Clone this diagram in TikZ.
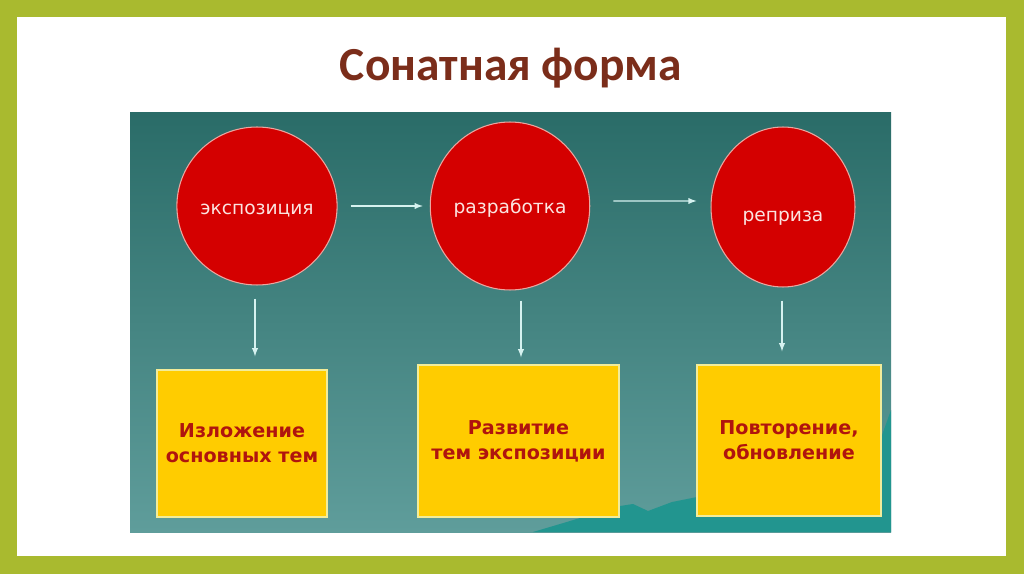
\documentclass[tikz,border=0pt]{standalone}
\usepackage{fontspec}
\setmainfont{DejaVu Sans}
\newfontfamily\titlefont{Carlito}
\usetikzlibrary{shapes.geometric}
\definecolor{framegreen}{HTML}{A9BA2F}
\definecolor{titlebrown}{HTML}{7B2D1A}
\definecolor{paneltop}{HTML}{2A6C68}
\definecolor{panelbot}{HTML}{5F9D9B}
\definecolor{hillteal}{HTML}{22958F}
\definecolor{partred}{HTML}{D40000}
\definecolor{partedge}{HTML}{EAA6A0}
\definecolor{parttext}{HTML}{FBE4E0}
\definecolor{boxgold}{HTML}{FFCC00}
\definecolor{boxedge}{HTML}{F2EC9A}
\definecolor{boxtext}{HTML}{B0140E}
\definecolor{arrowcol}{HTML}{D6F2F0}
\newcommand\lowered[2]{\raisebox{-#1}[\height][\depth]{#2}}
\tikzset{
	part/.style={ellipse, draw=partedge, line width=0.6pt, fill=partred, text=parttext, inner sep=0pt, font=\fontsize{10.6}{12}\selectfont},
	descbox/.style={rectangle, draw=boxedge, line width=0.8pt, fill=boxgold, text=boxtext, align=center, inner sep=0pt, font=\fontsize{10.9}{14.2}\selectfont\bfseries},
	arr/.style={-latex, draw=arrowcol, line width=0.6pt}
}
\begin{document}
\begin{tikzpicture}[x=0.02cm, y=-0.02cm]
			%%%%% FRAME %%%%%
			\useasboundingbox (0, 0) rectangle (1024, 574);
			\fill[framegreen] (0, 0) rectangle (1024, 574);
			\fill[white] (17, 17) rectangle (1006, 556);
			
			\node[font=\titlefont\fontsize{27}{32}\selectfont\bfseries, text=titlebrown] (title) at (511, 68) {Сонатная форма};
			
			%%%%% PANEL %%%%%
			\shade[top color=paneltop, bottom color=panelbot] (130, 113) rectangle (891, 532);
			\fill[hillteal] (533, 532) -- (560, 524) -- (590, 515) -- (620, 506) -- (633, 504) -- (648, 511) -- (672, 502) -- (697, 497) -- (760, 475) -- (881, 438) -- (891, 410) -- (891, 532) -- cycle;
			
			%%%%% PARTS %%%%%
			\node[part, minimum width=2.76cm, minimum height=3.16cm] (expo) at (257, 206) {\lowered{0.1cm}{экспозиция}};
			\node[part, minimum width=2.92cm, minimum height=3.36cm] (razr) at (510, 206) {\lowered{0.04cm}{разработка}};
			\node[part, minimum width=2.88cm, minimum height=3.2cm] (repr) at (783, 207) {\lowered{0.22cm}{реприза}};
			
			\node[descbox, minimum width=3.4cm, minimum height=2.94cm] (izl) at (242, 443.5) {Изложение\\основных тем};
			\node[descbox, minimum width=4.02cm, minimum height=3.04cm] (razv) at (518.5, 441) {Развитие\\тем экспозиции};
			\node[descbox, minimum width=3.68cm, minimum height=3.02cm] (povt) at (789, 440.5) {Повторение,\\обновление};
			
			%%%%% ARROWS %%%%%
			\draw[arr, shorten <=0.26cm, shorten >=0.14cm] (expo.east) -- (razr.west);
			\draw[arr, shorten <=0.46cm, shorten >=0.28cm] ([yshift=0.1cm]razr.east) -- ([yshift=0.12cm]repr.west);
			\draw[arr, shorten <=0.26cm, shorten >=0.26cm] ([xshift=-0.04cm]expo.south) -- ([xshift=-0.04cm]expo.south |- izl.north);
			\draw[arr, shorten <=0.2cm, shorten >=0.14cm] ([xshift=0.22cm]razr.south) -- ([xshift=0.22cm]razr.south |- razv.north);
			\draw[arr, shorten <=0.26cm, shorten >=0.26cm] ([xshift=-0.02cm]repr.south) -- ([xshift=-0.02cm]repr.south |- povt.north);
\end{tikzpicture}
\end{document}
